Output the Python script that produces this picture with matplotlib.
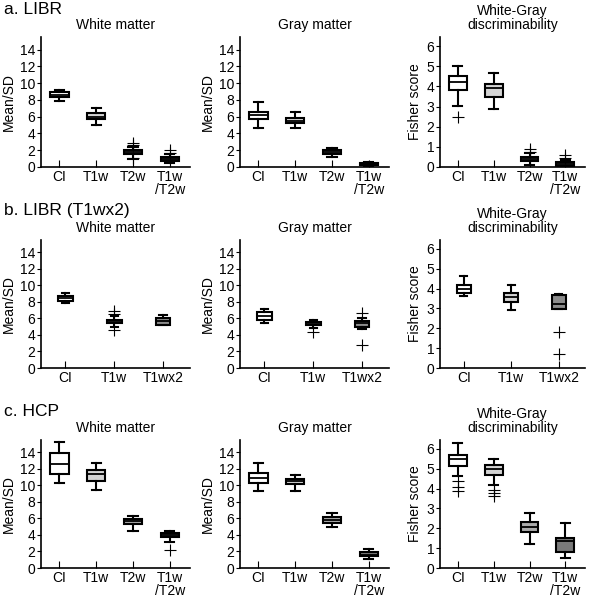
import matplotlib
matplotlib.use("Agg")
import matplotlib.pyplot as plt

plt.rcParams["font.family"] = ["Liberation Sans", "DejaVu Sans"]

# ── data: [whislo, q1, median, q3, whishi] per box, plus fliers ────────────
CATS_4 = ["CI", "T1w", "T2w", "T1w\n/T2w"]
CATS_3 = ["CI", "T1w", "T1wx2"]

COLORS_4 = ["white", "#d4d4d4", "#ababab", "#7a7a7a"]
COLORS_3 = ["white", "#d4d4d4", "#8c8c8c"]

a_wm = [[7.9, 8.3, 8.6, 8.9, 9.2], [5.0, 5.7, 6.0, 6.4, 7.0],
        [1.0, 1.5, 1.8, 2.05, 2.4], [0.45, 0.75, 1.0, 1.2, 1.5]]
a_wm_fl = [[], [], [2.6, 2.9, 1.1], [1.7, 2.0]]
a_gm = [[4.6, 5.75, 6.15, 6.6, 7.7], [4.7, 5.2, 5.5, 5.9, 6.5],
        [1.2, 1.5, 1.8, 2.0, 2.3], [0.1, 0.2, 0.3, 0.45, 0.6]]
a_gm_fl = [[], [], [], []]
a_fs = [[3.05, 3.8, 4.2, 4.5, 5.0], [2.9, 3.45, 3.9, 4.1, 4.65],
        [0.1, 0.3, 0.4, 0.5, 0.7], [0.0, 0.07, 0.15, 0.25, 0.35]]
a_fs_fl = [[2.5], [], [0.9, 0.75], [0.6, 0.45]]

b_wm = [[7.9, 8.1, 8.45, 8.75, 9.1], [5.0, 5.4, 5.65, 5.85, 6.3],
        [5.15, 5.2, 5.7, 6.0, 6.4]]
b_wm_fl = [[], [6.9, 6.5, 4.6], []]
b_gm = [[5.4, 5.8, 6.3, 6.8, 7.2], [4.8, 5.2, 5.45, 5.6, 5.85],
        [4.7, 5.0, 5.4, 5.65, 6.0]]
b_gm_fl = [[], [4.3], [6.6, 2.8]]
b_fs = [[3.65, 3.8, 4.0, 4.18, 4.63], [2.93, 3.35, 3.6, 3.76, 4.2],
        [2.95, 2.95, 3.2, 3.68, 3.72]]
b_fs_fl = [[], [], [1.8, 0.7]]

c_wm = [[10.3, 11.4, 12.6, 13.9, 15.2], [9.45, 10.5, 11.4, 11.9, 12.7],
        [4.5, 5.3, 5.7, 5.95, 6.35], [3.2, 3.7, 3.95, 4.2, 4.5]]
c_wm_fl = [[], [], [], [2.2]]
c_gm = [[9.3, 10.3, 10.95, 11.55, 12.75], [9.35, 10.15, 10.5, 10.8, 11.3],
        [5.0, 5.4, 5.8, 6.2, 6.7], [1.1, 1.4, 1.6, 1.9, 2.3]]
c_gm_fl = [[], [], [], []]
c_fs = [[4.63, 5.13, 5.5, 5.67, 6.3], [4.17, 4.7, 5.0, 5.2, 5.5],
        [1.22, 1.83, 2.08, 2.33, 2.77], [0.52, 0.83, 1.38, 1.5, 2.25]]
c_fs_fl = [[4.4, 4.1, 3.9], [3.95, 3.8, 3.65], [], []]

ROW_TITLES = ["a. LIBR", "b. LIBR (T1wx2)", "c. HCP"]
COL_TITLES = ["White matter", "Gray matter", "White-Gray\ndiscriminability"]


def draw_panel(ax, boxes, fliers, cats, colors, ymax, yticks, ylabel, width):
    stats = []
    for b, fl, c in zip(boxes, fliers, cats):
        stats.append(dict(whislo=b[0], q1=b[1], med=b[2], q3=b[3],
                          whishi=b[4], fliers=fl, label=c))
    pos = list(range(1, len(cats) + 1))
    art = ax.bxp(stats, positions=pos, widths=width, patch_artist=True,
                 boxprops=dict(linewidth=1.5, edgecolor="black"),
                 whiskerprops=dict(linewidth=1.5, color="black"),
                 capprops=dict(linewidth=1.5, color="black"),
                 medianprops=dict(linewidth=1.3, color="black"),
                 flierprops=dict(marker="+", markersize=8,
                                 markeredgecolor="black", markeredgewidth=0.8))
    for patch, col in zip(art["boxes"], colors):
        patch.set_facecolor(col)
    ax.set_xlim(0.5, len(cats) + 0.55)
    ax.set_ylim(0, ymax)
    ax.set_yticks(yticks)
    ax.set_ylabel(ylabel, fontsize=10, labelpad=3)
    ax.spines["top"].set_visible(False)
    ax.spines["right"].set_visible(False)
    ax.spines["left"].set_linewidth(1.2)
    ax.spines["bottom"].set_linewidth(1.2)
    ax.tick_params(axis="x", direction="in", length=5, labelsize=10, pad=2.5)
    ax.tick_params(axis="y", direction="out", length=3, labelsize=10, pad=1)
    for t in ax.get_xticklabels():
        t.set_linespacing(0.9)


fig = plt.figure(figsize=(5.89, 6.01), dpi=100)

W, H = 589.0, 601.0
lefts = [41, 240, 440]
widths_px = [149, 149, 145]
rows_px = [(37, 167), (240, 368), (440, 568)]

panels = [
    [(a_wm, a_wm_fl), (a_gm, a_gm_fl), (a_fs, a_fs_fl)],
    [(b_wm, b_wm_fl), (b_gm, b_gm_fl), (b_fs, b_fs_fl)],
    [(c_wm, c_wm_fl), (c_gm, c_gm_fl), (c_fs, c_fs_fl)],
]
row_title_y = [9, 210, 412]

for r in range(3):
    top, bot = rows_px[r]
    cats = CATS_3 if r == 1 else CATS_4
    colors = COLORS_3 if r == 1 else COLORS_4
    bw = 0.3 if r == 1 else 0.5
    for c in range(3):
        ax = fig.add_axes([lefts[c] / W, 1 - bot / H,
                           widths_px[c] / W, (bot - top) / H])
        boxes, fl = panels[r][c]
        if c < 2:
            draw_panel(ax, boxes, fl, cats, colors, 15.5,
                       range(0, 15, 2), "Mean/SD", bw)
        else:
            draw_panel(ax, boxes, fl, cats, colors, 6.45,
                       range(0, 7), "Fisher score", bw)
        ax.set_title(COL_TITLES[c], fontsize=10, pad=6, linespacing=0.95)
    fig.text(4 / W, 1 - row_title_y[r] / H, ROW_TITLES[r], fontsize=12.5,
             va="center", ha="left")

fig.savefig("out.png", dpi=100)
